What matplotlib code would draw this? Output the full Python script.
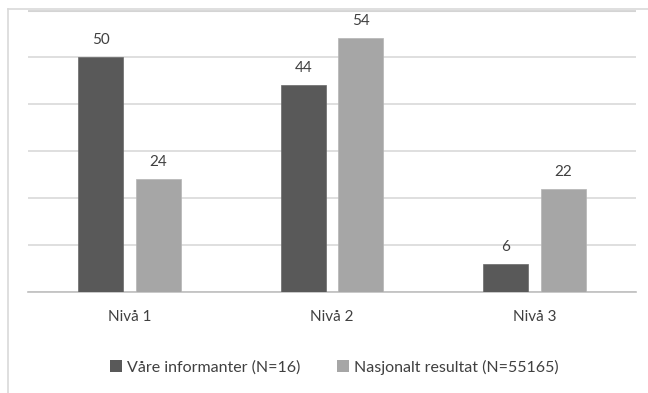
import matplotlib
matplotlib.use("Agg")
import matplotlib.pyplot as plt
from matplotlib.lines import Line2D
from matplotlib.patches import Patch
import numpy as np

categories = ["Nivå 1", "Nivå 2", "Nivå 3"]
series_names = ["Våre informanter (N=16)", "Nasjonalt resultat (N=55165)"]
vaare = [50, 44, 6]
nasjonalt = [24, 54, 22]
colors = ["#595959", "#a6a6a6"]

plt.rcParams['font.family'] = ['Lato', 'DejaVu Sans']

fig = plt.figure(figsize=(6.48, 3.93), dpi=100)
W, H = 648, 393
ax = fig.add_axes([28 / W, 1 - 292 / H, (636 - 28) / W, (292 - 10) / H])

x = np.arange(len(categories))
bw = 0.222
off = 0.142
b1 = ax.bar(x - off, vaare, bw, color=colors[0], edgecolor="#6a6a6a", linewidth=0.5, zorder=3)
b2 = ax.bar(x + off, nasjonalt, bw, color=colors[1], edgecolor="#b4b4b4", linewidth=0.5, zorder=3)

for bars, vals in ((b1, vaare), (b2, nasjonalt)):
    for r, v in zip(bars, vals):
        ax.annotate(str(v), (r.get_x() + r.get_width() / 2, v), xytext=(0, 7),
                    textcoords="offset points", ha="center", va="bottom",
                    fontsize=11, color="#404040")

ax.set_xlim(-0.5, 2.5)
ax.set_ylim(0, 60)
ax.set_yticks(np.arange(0, 61, 10))
ax.yaxis.grid(True, color="#d9d9d9", linewidth=1.2, zorder=0)
ax.set_yticklabels([])
ax.tick_params(axis='y', length=0)
ax.tick_params(axis='x', length=0, pad=13, labelsize=11, labelcolor="#404040")
ax.set_xticks(x)
ax.set_xticklabels(categories)
for s in ["left", "right", "top"]:
    ax.spines[s].set_visible(False)
ax.spines["bottom"].set_color("#bfbfbf")
ax.spines["bottom"].set_linewidth(1.2)

# outer chart border (partially visible)
fig.add_artist(Line2D([8 / W, 8 / W], [0, 1 - 9 / H], transform=fig.transFigure, color="#d9d9d9", linewidth=1.2))
fig.add_artist(Line2D([8 / W, 1], [1 - 9 / H, 1 - 9 / H], transform=fig.transFigure, color="#d9d9d9", linewidth=1.2))
# thicker top gridline
ax.axhline(60, color="#d4d4d4", linewidth=2.2, zorder=1)

handles = [Patch(facecolor=colors[0]), Patch(facecolor=colors[1])]
fig.legend(handles, series_names, loc="center", bbox_to_anchor=(334 / W, 1 - 367 / H),
           ncol=2, frameon=False, fontsize=11.5, handlelength=0.75, handleheight=0.75,
           handletextpad=0.3, columnspacing=2.3, labelcolor="#404040")

fig.savefig("out.png", dpi=100)
